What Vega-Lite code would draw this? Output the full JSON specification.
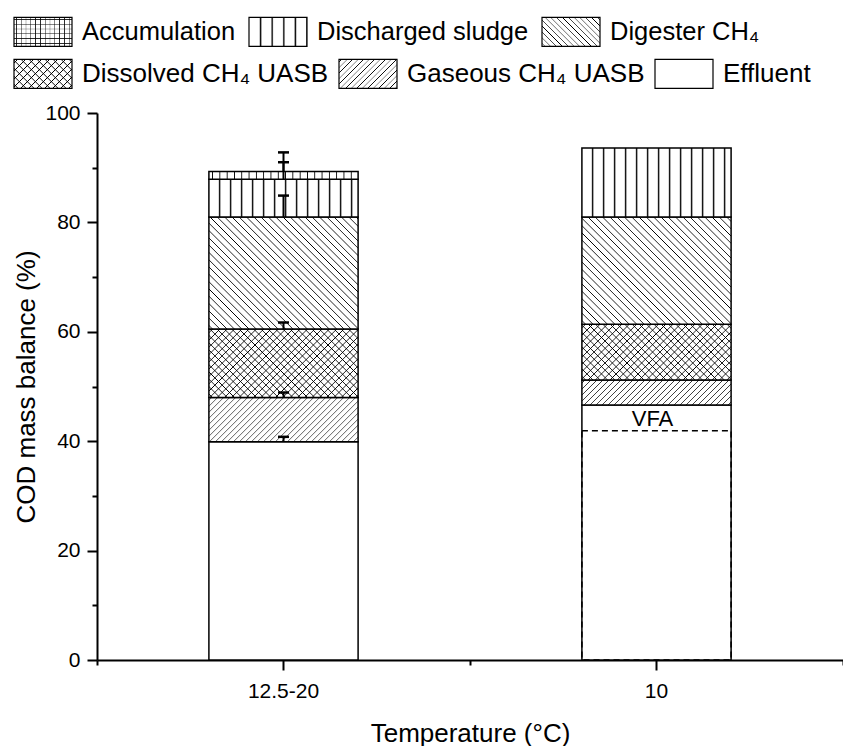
{
  "$schema": "https://vega.github.io/schema/vega-lite/v6.json",
  "width": 746,
  "height": 547,
  "autosize": "none",
  "padding": {"left": 97, "top": 113, "right": 0, "bottom": 86},
  "background": "white",
  "params": [
    {
      "name": "hs",
      "value": [
        {"offset": 0, "color": "transparent"},
        {"offset": 0.0095, "color": "transparent"}, {"offset": 0.0125, "color": "black"}, {"offset": 0.0155, "color": "transparent"},
        {"offset": 0.0345, "color": "transparent"}, {"offset": 0.0375, "color": "black"}, {"offset": 0.0405, "color": "transparent"},
        {"offset": 0.0595, "color": "transparent"}, {"offset": 0.0625, "color": "black"}, {"offset": 0.0655, "color": "transparent"},
        {"offset": 0.0845, "color": "transparent"}, {"offset": 0.0875, "color": "black"}, {"offset": 0.0905, "color": "transparent"},
        {"offset": 0.1095, "color": "transparent"}, {"offset": 0.1125, "color": "black"}, {"offset": 0.1155, "color": "transparent"},
        {"offset": 0.1345, "color": "transparent"}, {"offset": 0.1375, "color": "black"}, {"offset": 0.1405, "color": "transparent"},
        {"offset": 0.1595, "color": "transparent"}, {"offset": 0.1625, "color": "black"}, {"offset": 0.1655, "color": "transparent"},
        {"offset": 0.1845, "color": "transparent"}, {"offset": 0.1875, "color": "black"}, {"offset": 0.1905, "color": "transparent"},
        {"offset": 0.2095, "color": "transparent"}, {"offset": 0.2125, "color": "black"}, {"offset": 0.2155, "color": "transparent"},
        {"offset": 0.2345, "color": "transparent"}, {"offset": 0.2375, "color": "black"}, {"offset": 0.2405, "color": "transparent"},
        {"offset": 0.2595, "color": "transparent"}, {"offset": 0.2625, "color": "black"}, {"offset": 0.2655, "color": "transparent"},
        {"offset": 0.2845, "color": "transparent"}, {"offset": 0.2875, "color": "black"}, {"offset": 0.2905, "color": "transparent"},
        {"offset": 0.3095, "color": "transparent"}, {"offset": 0.3125, "color": "black"}, {"offset": 0.3155, "color": "transparent"},
        {"offset": 0.3345, "color": "transparent"}, {"offset": 0.3375, "color": "black"}, {"offset": 0.3405, "color": "transparent"},
        {"offset": 0.3595, "color": "transparent"}, {"offset": 0.3625, "color": "black"}, {"offset": 0.3655, "color": "transparent"},
        {"offset": 0.3845, "color": "transparent"}, {"offset": 0.3875, "color": "black"}, {"offset": 0.3905, "color": "transparent"},
        {"offset": 0.4095, "color": "transparent"}, {"offset": 0.4125, "color": "black"}, {"offset": 0.4155, "color": "transparent"},
        {"offset": 0.4345, "color": "transparent"}, {"offset": 0.4375, "color": "black"}, {"offset": 0.4405, "color": "transparent"},
        {"offset": 0.4595, "color": "transparent"}, {"offset": 0.4625, "color": "black"}, {"offset": 0.4655, "color": "transparent"},
        {"offset": 0.4845, "color": "transparent"}, {"offset": 0.4875, "color": "black"}, {"offset": 0.4905, "color": "transparent"},
        {"offset": 0.5095, "color": "transparent"}, {"offset": 0.5125, "color": "black"}, {"offset": 0.5155, "color": "transparent"},
        {"offset": 0.5345, "color": "transparent"}, {"offset": 0.5375, "color": "black"}, {"offset": 0.5405, "color": "transparent"},
        {"offset": 0.5595, "color": "transparent"}, {"offset": 0.5625, "color": "black"}, {"offset": 0.5655, "color": "transparent"},
        {"offset": 0.5845, "color": "transparent"}, {"offset": 0.5875, "color": "black"}, {"offset": 0.5905, "color": "transparent"},
        {"offset": 0.6095, "color": "transparent"}, {"offset": 0.6125, "color": "black"}, {"offset": 0.6155, "color": "transparent"},
        {"offset": 0.6345, "color": "transparent"}, {"offset": 0.6375, "color": "black"}, {"offset": 0.6405, "color": "transparent"},
        {"offset": 0.6595, "color": "transparent"}, {"offset": 0.6625, "color": "black"}, {"offset": 0.6655, "color": "transparent"},
        {"offset": 0.6845, "color": "transparent"}, {"offset": 0.6875, "color": "black"}, {"offset": 0.6905, "color": "transparent"},
        {"offset": 0.7095, "color": "transparent"}, {"offset": 0.7125, "color": "black"}, {"offset": 0.7155, "color": "transparent"},
        {"offset": 0.7345, "color": "transparent"}, {"offset": 0.7375, "color": "black"}, {"offset": 0.7405, "color": "transparent"},
        {"offset": 0.7595, "color": "transparent"}, {"offset": 0.7625, "color": "black"}, {"offset": 0.7655, "color": "transparent"},
        {"offset": 0.7845, "color": "transparent"}, {"offset": 0.7875, "color": "black"}, {"offset": 0.7905, "color": "transparent"},
        {"offset": 0.8095, "color": "transparent"}, {"offset": 0.8125, "color": "black"}, {"offset": 0.8155, "color": "transparent"},
        {"offset": 0.8345, "color": "transparent"}, {"offset": 0.8375, "color": "black"}, {"offset": 0.8405, "color": "transparent"},
        {"offset": 0.8595, "color": "transparent"}, {"offset": 0.8625, "color": "black"}, {"offset": 0.8655, "color": "transparent"},
        {"offset": 0.8845, "color": "transparent"}, {"offset": 0.8875, "color": "black"}, {"offset": 0.8905, "color": "transparent"},
        {"offset": 0.9095, "color": "transparent"}, {"offset": 0.9125, "color": "black"}, {"offset": 0.9155, "color": "transparent"},
        {"offset": 0.9345, "color": "transparent"}, {"offset": 0.9375, "color": "black"}, {"offset": 0.9405, "color": "transparent"},
        {"offset": 0.9595, "color": "transparent"}, {"offset": 0.9625, "color": "black"}, {"offset": 0.9655, "color": "transparent"},
        {"offset": 0.9845, "color": "transparent"}, {"offset": 0.9875, "color": "black"}, {"offset": 0.9905, "color": "transparent"},
        {"offset": 1, "color": "transparent"}
      ]
    }
  ],
  "data": {
    "values": [
      {"temperature": "12.5-20", "component": "Effluent", "from": 0, "to": 39.9, "error": 40.8},
      {"temperature": "12.5-20", "component": "Gaseous CH₄ UASB", "from": 39.9, "to": 48.0, "error": 48.9},
      {"temperature": "12.5-20", "component": "Dissolved CH₄ UASB", "from": 48.0, "to": 60.5, "error": 61.7},
      {"temperature": "12.5-20", "component": "Digester CH₄", "from": 60.5, "to": 81.0, "error": 84.9},
      {"temperature": "12.5-20", "component": "Discharged sludge", "from": 81.0, "to": 87.9, "error": 91.0},
      {"temperature": "12.5-20", "component": "Accumulation", "from": 87.9, "to": 89.3, "error": 92.8},
      {"temperature": "10", "component": "Effluent", "from": 0, "to": 46.6},
      {"temperature": "10", "component": "Gaseous CH₄ UASB", "from": 46.6, "to": 51.2},
      {"temperature": "10", "component": "Dissolved CH₄ UASB", "from": 51.2, "to": 61.4},
      {"temperature": "10", "component": "Digester CH₄", "from": 61.4, "to": 81.0},
      {"temperature": "10", "component": "Discharged sludge", "from": 81.0, "to": 93.6},
      {"temperature": "10", "component": "VFA", "from": 0, "to": 41.9}
    ]
  },
  "config": {
    "view": {"stroke": null},
    "font": "Liberation Sans",
    "axis": {
      "labelFont": "Liberation Sans",
      "titleFont": "Liberation Sans",
      "titleFontWeight": "normal",
      "labelColor": "black",
      "titleColor": "black",
      "domainColor": "black",
      "tickColor": "black",
      "grid": false
    },
    "legend": {
      "labelFont": "Liberation Sans",
      "labelColor": "black",
      "orient": "none",
      "title": null,
      "direction": "horizontal",
      "padding": 0,
      "symbolType": "M-1,-1H3V1H-1Z",
      "symbolSize": 841,
      "symbolOffset": 0,
      "symbolStrokeWidth": 1.2,
      "symbolOpacity": 1,
      "labelFontSize": 26,
      "labelLimit": 0,
      "labelOffset": 38,
      "columnPadding": 9,
      "rowPadding": 12
    }
  },
  "layer": [
    {
      "encoding": {
        "x": {
          "field": "temperature",
          "type": "nominal",
          "sort": ["12.5-20", "10"],
          "scale": {"domain": ["12.5-20", "10"], "paddingInner": 0.6, "paddingOuter": 0.3},
          "axis": {
            "orient": "bottom",
            "title": "Temperature (°C)",
            "labelAngle": 0,
            "tickSize": 10,
            "tickWidth": 2,
            "domainWidth": 2,
            "labelFontSize": 21,
            "labelPadding": 10,
            "titleFontSize": 26,
            "titlePadding": 19
          }
        }
      },
      "layer": [
        {
          "transform": [{"filter": "datum.component !== 'VFA'"}],
          "mark": {"type": "bar", "fill": "white", "stroke": "black", "strokeWidth": 1.5},
          "encoding": {
            "y": {
              "field": "from",
              "type": "quantitative",
              "scale": {"domain": [0, 100], "nice": false},
              "axis": {
                "title": "COD mass balance (%)",
                "values": [0, 10, 20, 30, 40, 50, 60, 70, 80, 90, 100],
                "labelExpr": "datum.value % 20 === 0 ? datum.label : ''",
                "tickSize": {"condition": {"test": "datum.value % 20 !== 0", "value": 5}, "value": 10},
                "tickWidth": 2,
                "domainWidth": 2,
                "labelFontSize": 21,
                "labelPadding": 7,
                "titleFontSize": 26,
                "titlePadding": 5
              }
            },
            "y2": {"field": "to"}
          }
        },
        {
          "transform": [{"filter": "datum.component !== 'VFA' && datum.component !== 'Effluent'"}],
          "mark": {
            "type": "bar",
            "strokeWidth": 0,
            "fill": {"expr": "datum.component==='Accumulation'?{gradient:'linear',x1:0,y1:0,x2:1.957,y2:0,stops:hs}:datum.component==='Discharged sludge'?{gradient:'linear',x1:0.035,y1:0,x2:2.984,y2:0,stops:hs}:datum.component==='Digester CH₄'?(datum.temperature==='10'?{gradient:'linear',x1:0,y1:1,x2:1.2908,y2:0.0726,stops:hs}:{gradient:'linear',x1:0,y1:1,x2:1.2509,y2:0.0601,stops:hs}):datum.component==='Dissolved CH₄ UASB'?(datum.temperature==='10'?{gradient:'linear',x1:0,y1:1,x2:1.717,y2:0.3579,stops:hs}:{gradient:'linear',x1:0,y1:1,x2:1.6172,y2:0.2586,stops:hs}):datum.component==='Gaseous CH₄ UASB'?(datum.temperature==='10'?{gradient:'linear',x1:0,y1:0,x2:1.564,y2:0.2642,stops:hs}:{gradient:'linear',x1:0,y1:0,x2:1.4783,y2:0.4389,stops:hs}):'transparent'"}
          },
          "encoding": {
            "y": {"field": "from", "type": "quantitative"},
            "y2": {"field": "to"}
          }
        },
        {
          "transform": [{"filter": "datum.component === 'Dissolved CH₄ UASB'"}],
          "mark": {
            "type": "bar",
            "strokeWidth": 0,
            "fill": {"expr": "datum.temperature==='10'?{gradient:'linear',x1:0,y1:0,x2:1.717,y2:0.6421,stops:hs}:{gradient:'linear',x1:0,y1:0,x2:1.6172,y2:0.7414,stops:hs}"}
          },
          "encoding": {
            "y": {"field": "from", "type": "quantitative"},
            "y2": {"field": "to"}
          }
        },
        {
          "transform": [{"filter": "datum.component === 'VFA'"}],
          "mark": {"type": "bar", "fill": "transparent", "stroke": "black", "strokeWidth": 1.5, "strokeDash": [6, 4]},
          "encoding": {
            "y": {"field": "from", "type": "quantitative"},
            "y2": {"field": "to"}
          }
        },
        {
          "transform": [{"filter": "datum.component === 'VFA'"}],
          "mark": {"type": "text", "fontSize": 22, "baseline": "alphabetic", "dy": -5, "dx": -4, "color": "black", "font": "Liberation Sans"},
          "encoding": {
            "y": {"field": "to", "type": "quantitative"},
            "text": {"field": "component"}
          }
        },
        {
          "transform": [{"filter": "isValid(datum.error)"}],
          "mark": {"type": "rule", "color": "black", "strokeWidth": 2},
          "encoding": {
            "y": {"field": "to", "type": "quantitative"},
            "y2": {"field": "error"}
          }
        },
        {
          "transform": [{"filter": "isValid(datum.error)"}],
          "mark": {"type": "tick", "color": "black", "thickness": 2.5, "size": 11, "opacity": 1},
          "encoding": {
            "y": {"field": "error", "type": "quantitative"}
          }
        }
      ]
    },
    {
      "transform": [{"filter": "false"}],
      "mark": {"type": "bar"},
      "encoding": {
        "x": {
          "field": "temperature",
          "type": "nominal",
          "sort": ["12.5-20", "10"],
          "scale": {"domain": ["12.5-20", "10"], "paddingInner": 0, "paddingOuter": 0},
          "axis": {
            "orient": "bottom",
            "tickBand": "extent",
            "labels": false,
            "domain": false,
            "title": null,
            "tickSize": 5,
            "tickWidth": 2
          }
        },
        "fill": {
          "field": "component",
          "type": "nominal",
          "scale": {
            "domain": ["Accumulation", "Discharged sludge", "Digester CH₄"],
            "range": [
              {"expr": "{gradient:'linear',x1:0,y1:0,x2:3.31,y2:0,stops:hs}"},
              {"expr": "{gradient:'linear',x1:0.1,y1:0,x2:8.1,y2:0,stops:hs}"},
              {"expr": "{gradient:'linear',x1:0,y1:1,x2:3.2,y2:-0.6,stops:hs}"}
            ]
          },
          "legend": {"legendX": -84, "legendY": -97, "columns": 3, "symbolStrokeColor": "black", "labelFontSize": 25.5, "columnPadding": 10}
        }
      }
    },
    {
      "transform": [{"filter": "false"}],
      "mark": {"type": "bar"},
      "encoding": {
        "fill": {
          "field": "component",
          "type": "nominal",
          "scale": {
            "domain": ["Dissolved CH₄ UASB", "Gaseous CH₄ UASB", "Effluent"],
            "range": [
              {"expr": "{gradient:'linear',x1:0,y1:1,x2:4.414,y2:-1.207,stops:hs}"},
              {"expr": "{gradient:'linear',x1:0,y1:0,x2:3.034,y2:1.517,stops:hs}"},
              "transparent"
            ]
          },
          "legend": {"legendX": -84, "legendY": -55, "columns": 3, "symbolStrokeColor": "black", "columnPadding": 7}
        }
      }
    },
    {
      "transform": [{"filter": "false"}],
      "mark": {"type": "bar"},
      "encoding": {
        "fill": {
          "field": "component",
          "type": "nominal",
          "scale": {
            "domain": ["a"],
            "range": [{"expr": "{gradient:'linear',x1:0,y1:0,x2:0,y2:6.621,stops:hs}"}]
          },
          "legend": {"legendX": -84, "legendY": -97, "columns": 1, "symbolStrokeColor": "transparent", "labelExpr": "''"}
        }
      }
    },
    {
      "transform": [{"filter": "false"}],
      "mark": {"type": "bar"},
      "encoding": {
        "fill": {
          "field": "component",
          "type": "nominal",
          "scale": {
            "domain": ["b"],
            "range": [{"expr": "{gradient:'linear',x1:0,y1:0,x2:4.414,y2:2.207,stops:hs}"}]
          },
          "legend": {"legendX": -84, "legendY": -55, "columns": 1, "symbolStrokeColor": "transparent", "labelExpr": "''"}
        }
      }
    }
  ],
  "resolve": {"scale": {"x": "independent", "fill": "independent"}, "axis": {"x": "independent"}}
}
